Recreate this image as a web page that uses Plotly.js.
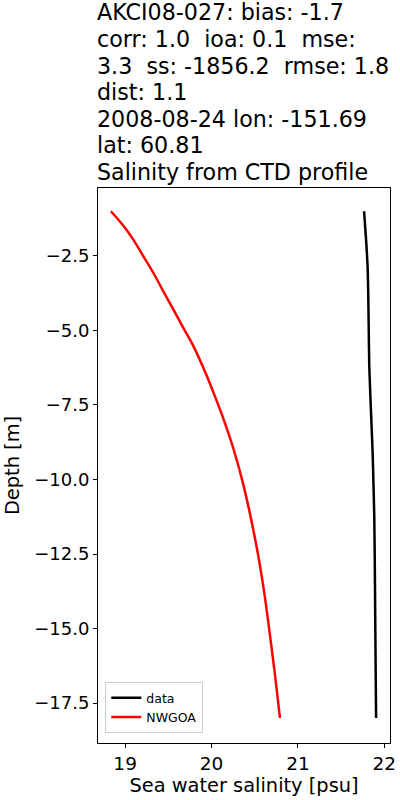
<!DOCTYPE html>
<html><head><meta charset="utf-8">
<script src="https://cdn.plot.ly/plotly-3.0.1.min.js"></script>
<style>body{margin:0;padding:0;background:#fff}#chart{width:400px;height:800px}</style>
</head><body><div id="chart"></div>
<script>
const dataSalinity = [21.766, 21.790, 21.807, 21.814, 21.820, 21.826, 21.853, 21.866, 21.884, 21.892, 21.898, 21.905];
const dataDepth    = [-1.0, -2.0, -2.86, -3.75, -5.0, -6.21, -8.23, -9.2, -11.25, -13.48, -15.7, -18.0];
const modelSalinity = [18.836, 18.980, 19.096, 19.213, 19.329, 19.445, 19.561, 19.677, 19.793, 19.935, 20.026, 20.142, 20.258, 20.374, 20.515, 20.606, 20.684, 20.742, 20.792];
const modelDepth    = [-1.0, -1.49, -1.96, -2.52, -3.08, -3.70, -4.31, -4.93, -5.54, -6.45, -7.11, -8.0, -9.01, -10.24, -12.15, -13.71, -15.39, -16.73, -18.0];
const titleLines = ["AKCI08-027: bias: -1.7", "corr: 1.0  ioa: 0.1  mse:", "3.3  ss: -1856.2  rmse: 1.8", "dist: 1.1", "2008-08-24 lon: -151.69", "lat: 60.81", "Salinity from CTD profile"];
const xTicks = [19, 20, 21, 22];
const yTicks = [-2.5, -5.0, -7.5, -10.0, -12.5, -15.0, -17.5];

const traces = [
  {x: dataSalinity, y: dataDepth, mode: 'lines', name: 'data', line: {color: '#000000', width: 2.5, shape: 'spline', smoothing: 0.5}},
  {x: modelSalinity, y: modelDepth, mode: 'lines', name: 'NWGOA', line: {color: '#ff0000', width: 2.5, shape: 'spline', smoothing: 1}}
];
const font = 'DejaVu Sans, sans-serif';
const n = titleLines.length;
const annotations = titleLines.map((t, i) => ({
  text: t, xref: 'paper', yref: 'paper', x: 0, y: 1, xanchor: 'left', yanchor: 'bottom',
  align: 'left', showarrow: false, xshift: -3, yshift: 1 + (n - 1 - i) * 26.6,
  font: {size: 22.2, family: font, color: '#000'}
}));
const layout = {
  width: 400, height: 800,
  margin: {l: 98, r: 10, t: 188, b: 57},
  paper_bgcolor: '#fff', plot_bgcolor: '#fff',
  font: {family: font, color: '#000', size: 18},
  showlegend: true,
  legend: {x: 0.025, y: 0.018, xanchor: 'left', yanchor: 'bottom', bordercolor: '#cccccc', borderwidth: 1,
           font: {size: 12.5, family: font}, bgcolor: 'rgba(255,255,255,0.8)', tracegroupgap: 0},
  xaxis: {range: [18.686, 22.066], tickvals: xTicks, ticktext: xTicks.map(String), showgrid: false, zeroline: false,
          showline: true, mirror: true, linecolor: '#000', linewidth: 1, ticks: 'outside', ticklen: 4, tickcolor: '#000',
          tickfont: {size: 18.5}, title: {text: 'Sea water salinity [psu]', font: {size: 19.4}, standoff: 2}},
  yaxis: {range: [-18.84, -0.22], tickvals: yTicks, tickformat: '.1f', showgrid: false, zeroline: false,
          showline: true, mirror: true, linecolor: '#000', linewidth: 1, ticks: 'outside', ticklen: 4, tickcolor: '#000',
          tickfont: {size: 18}, title: {text: 'Depth [m]', font: {size: 19.4}, standoff: 9}},
  annotations: annotations
};
Plotly.newPlot('chart', traces, layout, {displayModeBar: false, staticPlot: true});
</script></body></html>
